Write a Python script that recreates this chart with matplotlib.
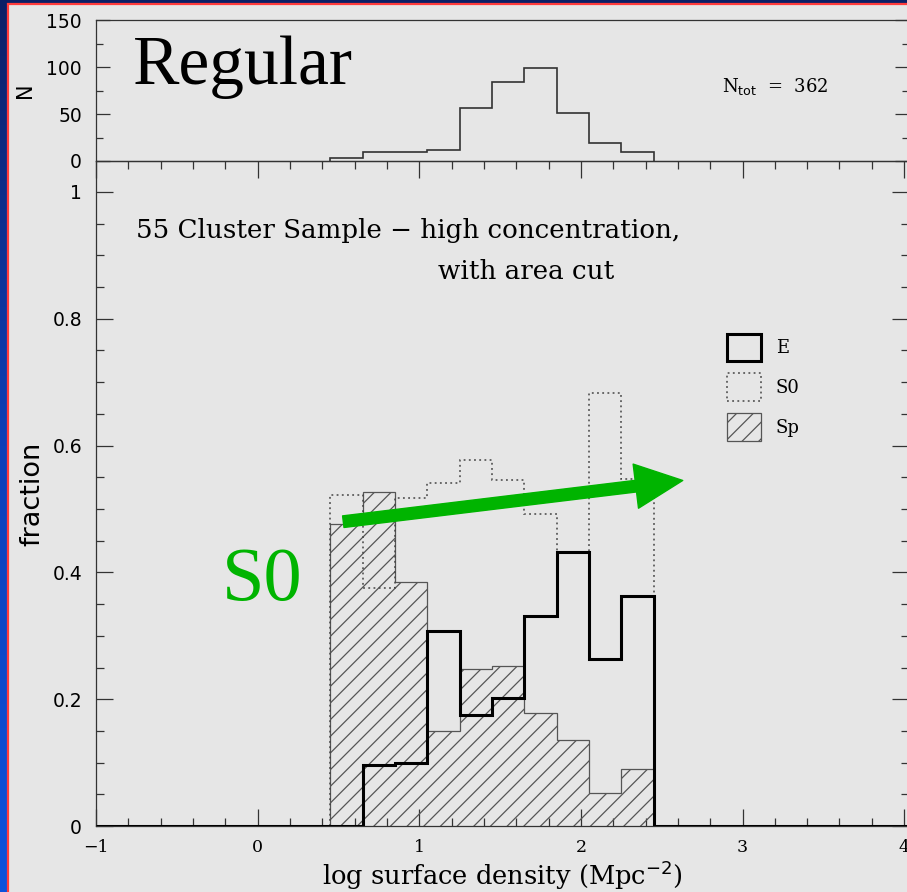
import matplotlib
matplotlib.use("Agg")
import matplotlib.pyplot as plt
import numpy as np
from matplotlib.patches import Patch, Rectangle
from matplotlib.ticker import MultipleLocator

# bins in log surface density
bin_edges = [0.45, 0.65, 0.85, 1.05, 1.25, 1.45, 1.65, 1.85, 2.05, 2.25, 2.45]
n_counts = [3, 10, 10, 12, 56, 84, 99, 51, 19, 10]
frac_e = [0.0, 0.096, 0.099, 0.308, 0.175, 0.202, 0.331, 0.432, 0.263, 0.363]
frac_s0 = [0.522, 0.375, 0.517, 0.541, 0.577, 0.546, 0.492, 0.432, 0.683, 0.547]
frac_sp = [0.476, 0.527, 0.385, 0.150, 0.248, 0.252, 0.178, 0.136, 0.052, 0.090]
n_tot = 362

# arrow annotation (data coords): tail -> head
arrow_tail = (0.53, 0.48)
arrow_head = (2.63, 0.545)

GRAY_BG = "#e6e6e6"
GREEN = "#00b400"
SERIF = "DejaVu Serif"
SANS = "DejaVu Sans"
DOTS = (0, (1.2, 2.2))

W, H = 907, 892
fig = plt.figure(figsize=(W / 100, H / 100), dpi=100)
fig.patch.set_facecolor(GRAY_BG)

# blue slide background with red frame
bg = fig.add_axes([0, 0, 1, 1], zorder=-10)
grad = np.linspace(0, 1, 256).reshape(-1, 1)
cmap = matplotlib.colors.LinearSegmentedColormap.from_list("bl", ["#0a1f66", "#0b3fb8", "#0a52dc"])
bg.imshow(grad, aspect="auto", cmap=cmap, extent=[0, 1, 0, 1])
bg.add_patch(Rectangle((7.5 / W, -0.01), 1.0, 1 + 0.01 - 4.5 / H, facecolor=GRAY_BG,
                       edgecolor="#ff3b3b", linewidth=1.6))
bg.set_xlim(0, 1)
bg.set_ylim(0, 1)
bg.axis("off")

left = 96 / W
width = (909 - 96) / W
xlim = (-1, 4.03)

ax_n = fig.add_axes([left, 1 - 161 / H, width, 141 / H])
ax = fig.add_axes([left, 66 / H, width, (826 - 161) / H])

for a in (ax_n, ax):
    a.set_facecolor("none")
    a.set_xlim(*xlim)
    for s in a.spines.values():
        s.set_color("#333333")
        s.set_linewidth(0.9)

# --- top: number histogram
ax_n.stairs(n_counts, bin_edges, color="#333333", linewidth=1.2)
ax_n.set_ylim(0, 150)
ax_n.yaxis.set_major_locator(MultipleLocator(50))
ax_n.yaxis.set_minor_locator(MultipleLocator(25))
ax_n.tick_params(axis="y", which="both", direction="in", left=True, right=True,
                 labelsize=13.5, pad=10, color="#333333")
ax_n.tick_params(axis="y", which="major", length=10, width=0.9)
ax_n.tick_params(axis="y", which="minor", length=5, width=0.9)
ax_n.tick_params(axis="x", which="both", bottom=False, labelbottom=False)
for lab in ax_n.get_yticklabels():
    lab.set_family(SANS)
ax_n.set_ylabel("N", fontsize=15, family=SANS, labelpad=8)
ax_n.text(0.045, 0.665, "Regular", transform=ax_n.transAxes, fontsize=50,
          family="Liberation Serif", va="center", ha="left")
ax_n.text(0.77, 0.53, r"N$_{\rm tot}$  =  " + str(n_tot), transform=ax_n.transAxes,
          fontsize=13, family=SERIF, va="center", ha="left")

# --- bottom: fractions
edges_e = np.concatenate([[xlim[0]], bin_edges, [xlim[1]]])
vals_e = np.concatenate([[0.0], frac_e, [0.0]])

plt.rcParams["hatch.linewidth"] = 0.9
ax.stairs(frac_sp, bin_edges, fill=True, facecolor="none", edgecolor="#555555",
          hatch="//", linewidth=0.9, zorder=2)
ax.stairs(frac_s0, bin_edges, color="#444444", linestyle=DOTS,
          linewidth=1.1, zorder=3)
ax.stairs(vals_e, edges_e, color="black", linewidth=2.2, zorder=4)

ax.set_ylim(0, 665 / 634)
ax.set_yticks([0, 0.2, 0.4, 0.6, 0.8, 1.0])
ax.set_yticklabels(["0", "0.2", "0.4", "0.6", "0.8", "1"])
ax.yaxis.set_minor_locator(MultipleLocator(0.05))
ax.xaxis.set_major_locator(MultipleLocator(1))
ax.xaxis.set_minor_locator(MultipleLocator(0.2))
ax.tick_params(which="both", direction="in", top=True, right=True, color="#333333")
ax.tick_params(which="major", length=12, width=0.9)
ax.tick_params(which="minor", length=6, width=0.9)
ax.tick_params(axis="y", labelsize=13.5, pad=10)
ax.tick_params(axis="x", labelsize=12.5, pad=9)
for lab in ax.get_yticklabels():
    lab.set_family(SANS)
for lab in ax.get_xticklabels():
    lab.set_family(SERIF)
ax.set_ylabel("fraction", fontsize=19.5, family=SANS, labelpad=5)
ax.set_xlabel(r"log surface density (Mpc$^{-2}$)", fontsize=18.5, family=SERIF, labelpad=2)

ax.text(0.049, 0.895, "55 Cluster Sample \u2212 high concentration,", transform=ax.transAxes,
        fontsize=18.8, family=SERIF, va="center", ha="left")
ax.text(0.421, 0.834, "with area cut", transform=ax.transAxes,
        fontsize=18.8, family=SERIF, va="center", ha="left")

handles = [
    Patch(facecolor="none", edgecolor="black", linewidth=2.2, label="E"),
    Patch(facecolor="none", edgecolor="#444444", linestyle=DOTS, linewidth=1.1, label="S0"),
    Patch(facecolor="none", edgecolor="#555555", hatch="//", linewidth=0.9, label="Sp"),
]
leg = ax.legend(handles=handles, loc="upper left", bbox_to_anchor=(0.756, 0.765),
                frameon=False, handlelength=1.87, handleheight=2.0, labelspacing=0.66,
                handletextpad=0.85, prop={"family": SERIF, "size": 13})

ax.annotate("", xy=arrow_head, xytext=arrow_tail,
            arrowprops=dict(arrowstyle="simple,head_length=1.7,head_width=1.6,tail_width=0.42",
                            mutation_scale=20, color=GREEN, shrinkA=0, shrinkB=0), zorder=6)
ax.text(-0.22, 0.385, "S0", fontsize=55, family="Liberation Serif", color=GREEN,
        va="center", ha="left", zorder=6)

fig.savefig("out.png", dpi=100, facecolor=fig.get_facecolor())
